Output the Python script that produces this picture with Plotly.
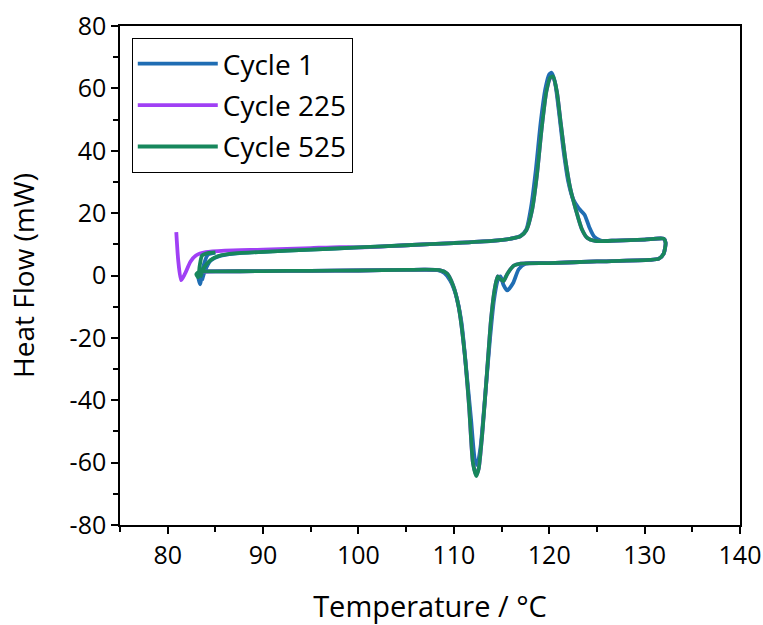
import plotly.graph_objects as go

# ---- data ----
c1_T = [83.6, 83.9, 84.5, 85.5, 87, 90, 95, 100, 105, 110, 114, 116, 117, 117.6, 118.1, 118.6, 119.1, 119.6, 120.0, 120.25, 120.6, 121.0, 121.5, 122.0, 122.5, 123.1, 123.7, 124.2, 124.7, 125.4, 127, 130, 132.0, 132.2, 132.0, 131.5, 130.5,
        125, 120, 117.5, 116.8, 116.2, 115.6, 115.2, 114.9, 114.6, 114.2, 113.8, 113.3, 112.8, 112.45, 112.2, 111.8, 111.3, 110.8, 110.2, 109.6, 109.0, 108.3, 105, 100, 95, 90, 85, 83.6, 83.2, 83.4, 83.7, 84.2, 85]
c1_Q = [-1.5, 1.5, 4.8, 6.3, 7.0, 7.6, 8.3, 9.0, 9.7, 10.4, 11.1, 11.8, 12.7, 14.8, 22, 34, 49, 60, 64.5, 65.0, 62, 53, 40, 30, 24.5, 21.5, 19.5, 15.5, 12.5, 11.2, 11.2, 11.5, 11.8, 10.5, 7, 5.4, 5.0,
        4.5, 4.0, 3.8, 2.0, -2.5, -4.8, -3.0, -0.3, -1.5, -8, -20, -38, -55, -60.8, -59, -46, -30, -15, -6, -1.5, 0.8, 1.7, 1.8, 1.6, 1.5, 1.4, 1.3, 1.2, 0.0, -2.8, 2.5, 6.6, 7.3]

c225_T = [80.9, 81.1, 81.4, 81.8, 82.4, 83.0, 84, 86, 90, 95, 98, 100, 105, 110, 114, 116, 117, 117.6, 118.2, 118.7, 119.2, 119.7, 120.1, 120.4, 120.8, 121.2, 121.7, 122.2, 122.8, 123.4, 124.0, 124.8, 127, 130, 132.0, 132.2, 132.0, 131.5, 130.5,
          125, 120, 117, 116.3, 115.6, 115.2, 114.9, 114.6, 114.3, 113.9, 113.5, 113.0, 112.6, 112.35, 112.0, 111.6, 111.1, 110.5, 109.9, 109.3, 108.5, 105, 100, 95, 90, 85, 83.3]
c225_Q = [13.9, 5.0, -1.5, 0.5, 4.5, 6.5, 7.5, 8.0, 8.3, 8.8, 9.1, 9.0, 9.7, 10.4, 11.1, 11.8, 12.6, 14.5, 21, 32, 47, 59, 63.3, 63.6, 59, 49, 37, 28, 21, 15, 12, 11.1, 11.2, 11.5, 11.8, 10.5, 7, 5.4, 5.0,
          4.5, 4.0, 3.8, 3.2, 0.5, -1.8, -1.2, -0.3, -4, -14, -30, -50, -62, -63.8, -60, -42, -24, -10, -3, 0.6, 1.7, 1.8, 1.6, 1.5, 1.4, 1.3, 1.2]

c525_T = [83.4, 83.8, 84.5, 85.5, 87, 90, 95, 100, 105, 110, 114, 116, 117, 117.6, 118.2, 118.7, 119.2, 119.7, 120.1, 120.4, 120.8, 121.2, 121.7, 122.2, 122.8, 123.4, 124.0, 124.8, 127, 130, 132.0, 132.2, 132.0, 131.5, 130.5,
          125, 120, 117, 116.3, 115.6, 115.2, 114.9, 114.6, 114.3, 113.9, 113.5, 113.0, 112.6, 112.35, 112.0, 111.6, 111.1, 110.5, 109.9, 109.3, 108.5, 105, 100, 95, 90, 85, 83.3, 83.0, 83.2, 83.35, 83.6, 84.2, 85]
c525_Q = [-0.6, 2.5, 5.0, 6.4, 7.1, 7.6, 8.3, 9.0, 9.7, 10.4, 11.1, 11.8, 12.6, 14.5, 21, 32, 47, 59, 63.5, 63.8, 59, 49, 37, 28, 21, 15, 12, 11.1, 11.2, 11.5, 11.8, 10.5, 7, 5.4, 5.0,
          4.5, 4.0, 3.8, 3.2, 0.5, -1.8, -1.2, -0.3, -4, -14, -30, -50, -62, -64.3, -60, -42, -24, -10, -3, 0.6, 1.7, 1.8, 1.6, 1.5, 1.4, 1.3, 1.2, 0.4, -0.6, 3.0, 6.4, 7.2, 7.4]

series = [
    ("Cycle 1", c1_T, c1_Q, "#1f6db3"),
    ("Cycle 225", c225_T, c225_Q, "#a040f5"),
    ("Cycle 525", c525_T, c525_Q, "#17875c"),
]

x_ticks = [80, 90, 100, 110, 120, 130, 140]
x_labels = ["80", "90", "100", "110", "120", "130", "140"]
y_ticks = [-80, -60, -40, -20, 0, 20, 40, 60, 80]
y_labels = ["-80", "-60", "-40", "-20", "0", "20", "40", "60", "80"]

FONT = "Open Sans"

fig = go.Figure()
for i, (name, T, Q, col) in enumerate(series):
    fig.add_trace(go.Scatter(
        x=T, y=Q, mode="lines", name=name, legendgroup=f"g{i}",
        line=dict(color=col, width=3.8, shape="spline", smoothing=0.6),
    ))

axis_common = dict(
    showline=True, linecolor="black", linewidth=1.5, mirror=True,
    ticks="outside", ticklen=7, tickwidth=1.5, tickcolor="black",
    showgrid=False, zeroline=False, automargin=False,
    tickfont=dict(family=FONT, size=25, color="black"),
)

fig.update_xaxes(
    range=[75, 140], tickvals=x_ticks, ticktext=x_labels,
    minor=dict(dtick=5, tick0=75, ticks="outside", ticklen=5, tickwidth=1.5, tickcolor="black"),
    title=dict(text="Temperature / °C", font=dict(family=FONT, size=29, color="black"), standoff=32),
    **axis_common,
)
fig.update_yaxes(
    range=[-80, 80], tickvals=y_ticks, ticktext=y_labels,
    minor=dict(dtick=10, tick0=-80, ticks="outside", ticklen=5, tickwidth=1.5, tickcolor="black"),
    title=dict(text="Heat Flow (mW)", font=dict(family=FONT, size=28, color="black"), standoff=27),
    **axis_common,
)

fig.update_layout(
    width=763, height=625,
    margin=dict(l=120, r=23, t=26, b=100),
    paper_bgcolor="white", plot_bgcolor="white",
    showlegend=True,
    legend=dict(
        x=0.019, y=0.976, xanchor="left", yanchor="top",
        bordercolor="black", borderwidth=1, bgcolor="white",
        font=dict(family=FONT, size=28, color="black"),
        tracegroupgap=2, itemwidth=80,
    ),
)

fig.write_html("out.html")
